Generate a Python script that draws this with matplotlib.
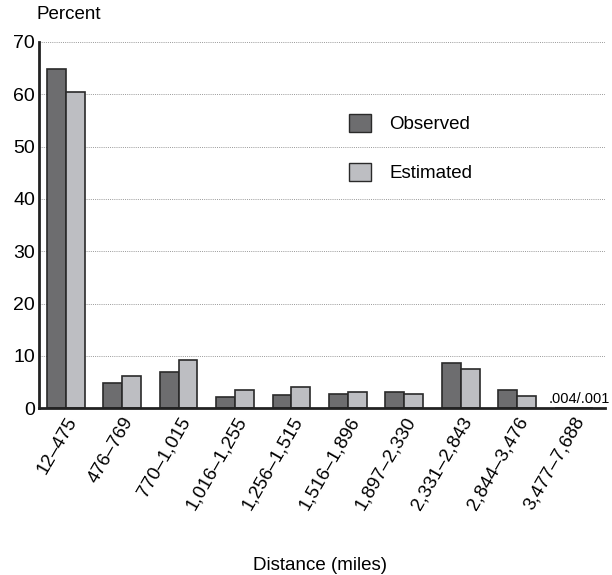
import numpy as np
import matplotlib.pyplot as plt
from matplotlib.patches import Patch

plt.rcParams['font.family'] = ['Liberation Sans', 'DejaVu Sans']

categories = ['12\u2013475', '476\u2013769', '770\u20131,015', '1,016\u20131,255',
              '1,256\u20131,515', '1,516\u20131,896', '1,897\u20132,330',
              '2,331\u20132,843', '2,844\u20133,476', '3,477\u20137,688']
observed = [64.8, 4.8, 7.0, 2.1, 2.5, 2.8, 3.1, 8.6, 3.4, 0.004]
estimated = [60.4, 6.2, 9.2, 3.5, 4.1, 3.1, 2.7, 7.5, 2.3, 0.001]

dark = '#6d6d6f'
light = '#bdbec2'
edge = '#2a2a2a'

fig = plt.figure(figsize=(6.12, 5.75), dpi=100)
ax = fig.add_axes([0.064, 0.29, 0.924, 0.637])

x = np.arange(len(categories))
w = 0.335
ax.bar(x - w / 2, observed, w, color=dark, edgecolor=edge, linewidth=1.2, zorder=3)
ax.bar(x + w / 2, estimated, w, color=light, edgecolor=edge, linewidth=1.2, zorder=3)

# tiny values for the last bin written as text
ax.text(x[-1] - 0.45, 0.4, '.004/.001', fontsize=10.5, ha='left', va='bottom')

ax.set_xlim(-0.47, 9.55)
ax.set_ylim(0, 70)
ax.set_yticks(range(0, 71, 10))
ax.tick_params(axis='y', length=0, labelsize=14, pad=3)
ax.tick_params(axis='x', length=0, labelsize=13.5, pad=4)
ax.set_xticks(x)
ax.set_xticklabels(categories, rotation=60, ha='right', rotation_mode='anchor')
ax.grid(axis='y', linestyle=(0, (1, 1.2)), color='#999999', linewidth=0.7, zorder=0)
for s in ['top', 'right']:
    ax.spines[s].set_visible(False)
for s in ['left', 'bottom']:
    ax.spines[s].set_linewidth(2)
    ax.spines[s].set_color('#222222')
    ax.spines[s].set_zorder(4)

fig.text(0.059, 0.974, 'Percent', fontsize=13.5, ha='left', va='center')
fig.text(0.523, 0.017, 'Distance (miles)', fontsize=13.5, ha='center', va='center')

handles = [Patch(facecolor=dark, edgecolor=edge), Patch(facecolor=light, edgecolor=edge)]
ax.legend(handles, ['Observed', 'Estimated'], loc='upper left',
          bbox_to_anchor=(0.518, 0.85), frameon=False, fontsize=13.5,
          handlelength=1.15, handleheight=1.15, labelspacing=1.55, handletextpad=1.0)

fig.savefig('out.png', dpi=100)
